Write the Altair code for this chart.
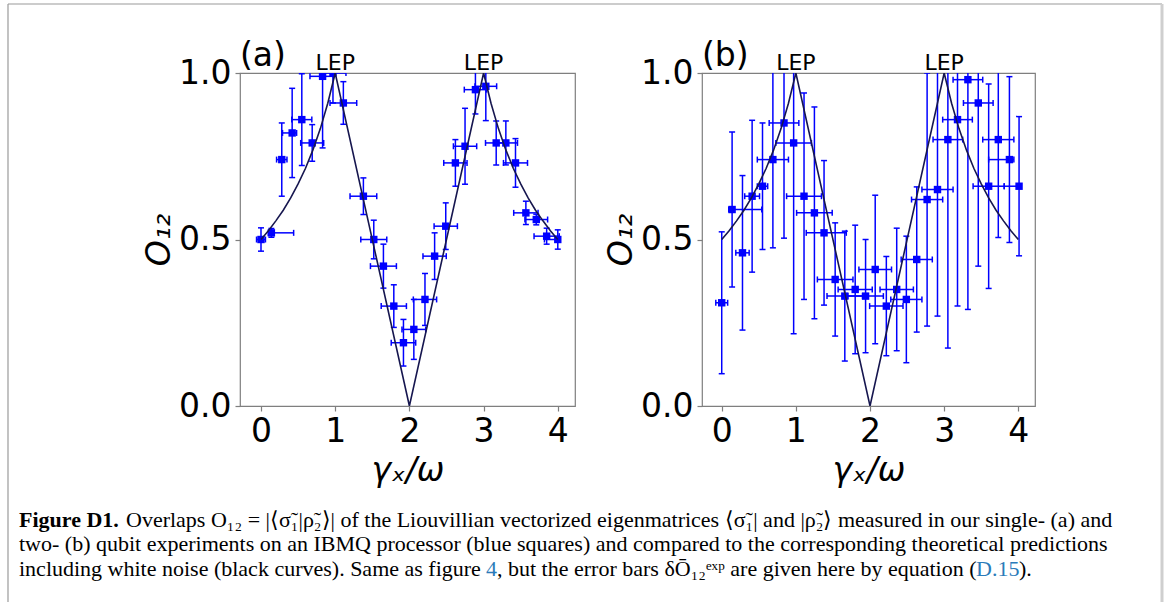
import altair as alt
import pandas as pd

BLUE = "#0000ff"
CURVE = "#16164f"
FRAME = "#7f7f7f"

# ---- (a) single-qubit experiment ----
a_x = [0.00, 0.14, 0.28, 0.42, 0.55, 0.69, 0.83, 0.97, 1.11, 1.38, 1.52, 1.65, 1.79, 1.92, 2.06,
       2.21, 2.34, 2.49, 2.62, 2.75, 2.89, 3.03, 3.17, 3.30, 3.43, 3.57, 3.71, 3.85, 4.00]
a_o = [0.50, 0.52, 0.74, 0.82, 0.86, 0.79, 0.99, 1.00, 0.91, 0.63, 0.50, 0.42, 0.30, 0.19, 0.23,
       0.32, 0.45, 0.54, 0.73, 0.78, 0.95, 0.96, 0.79, 0.79, 0.73, 0.58, 0.56, 0.51, 0.50]
a_err = [0.035, 0.013, 0.110, 0.134, 0.138, 0.055, 0.215, 0.090, 0.064, 0.055, 0.058, 0.066, 0.064,
         0.070, 0.090, 0.078, 0.070, 0.070, 0.070, 0.114, 0.073, 0.103, 0.066, 0.066, 0.073, 0.035,
         0.016, 0.024, 0.029]
a_xlo = [0.06, 0.04, 0.07, 0.13, 0.135, 0.155, 0.17, 0.175, 0.18, 0.18, 0.175, 0.175, 0.17, 0.165,
         0.16, 0.157, 0.157, 0.157, 0.157, 0.157, 0.15, 0.146, 0.144, 0.157, 0.162, 0.164, 0.153,
         0.17, 0.18]
a_xhi = [0.06, 0.30, 0.07, 0.06, 0.135, 0.155, 0.145, 0.175, 0.18, 0.18, 0.175, 0.175, 0.17, 0.165,
         0.16, 0.157, 0.157, 0.157, 0.157, 0.157, 0.15, 0.146, 0.144, 0.157, 0.162, 0.164, 0.153,
         0.17, 0.02]

# ---- (b) two-qubit experiment ----
b_x = [0.00, 0.14, 0.28, 0.41, 0.55, 0.69, 0.84, 0.97, 1.11, 1.25, 1.38, 1.53, 1.66, 1.80, 1.94,
       2.07, 2.22, 2.36, 2.49, 2.63, 2.77, 2.91, 3.05, 3.18, 3.32, 3.46, 3.60, 3.73, 3.88, 4.01]
b_o = [0.31, 0.59, 0.46, 0.63, 0.66, 0.74, 0.85, 0.79, 0.63, 0.58, 0.52, 0.38, 0.33, 0.35, 0.33,
       0.41, 0.30, 0.35, 0.32, 0.44, 0.62, 0.65, 0.80, 0.86, 0.98, 0.91, 0.66, 0.80, 0.74, 0.66]
b_err = [0.213, 0.233, 0.232, 0.228, 0.190, 0.265, 0.346, 0.573, 0.310, 0.318, 0.217, 0.170, 0.195,
         0.193, 0.170, 0.223, 0.149, 0.184, 0.190, 0.218, 0.380, 0.380, 0.626, 0.560, 0.690, 0.490,
         0.307, 0.294, 0.249, 0.209]
b_xlo = [0.08, 0.045, 0.09, 0.10, 0.07, 0.21, 0.20, 0.24, 0.235, 0.24, 0.24, 0.24, 0.24, 0.23, 0.24,
         0.22, 0.225, 0.225, 0.21, 0.21, 0.21, 0.21, 0.20, 0.20, 0.20, 0.20, 0.21, 0.21, 0.28, 0.20]
b_xhi = [0.08, 0.40, 0.09, 0.10, 0.07, 0.21, 0.20, 0.24, 0.235, 0.24, 0.30, 0.24, 0.24, 0.23, 0.24,
         0.22, 0.225, 0.225, 0.21, 0.21, 0.21, 0.21, 0.20, 0.20, 0.20, 0.20, 0.21, 0.21, 0.06, 0.00]

# ---- theoretical overlap (same in both panels) ----
th_x = [0.0, 0.1, 0.2, 0.3, 0.4, 0.5, 0.6, 0.7, 0.8, 0.9, 1.0, 2.0,
        3.0, 3.1, 3.2, 3.3, 3.4, 3.5, 3.6, 3.7, 3.8, 3.9, 4.0]
th_o = [0.500, 0.526, 0.556, 0.588, 0.625, 0.667, 0.714, 0.769, 0.833, 0.909, 1.000, 0.000,
        1.000, 0.909, 0.833, 0.769, 0.714, 0.667, 0.625, 0.588, 0.556, 0.526, 0.500]

lep_x = [1, 3]

caption_1a = "Figure D1."
caption_1b = ("Overlaps O\u2081\u2082 = |\u27e8\u03c3\u0303\u2081|\u03c1\u0303\u2082\u27e9| of the Liouvillian "
              "vectorized eigenmatrices \u27e8\u03c3\u0303\u2081| and |\u03c1\u0303\u2082\u27e9 measured in our single- (a) and")
caption_2 = ("two- (b) qubit experiments on an IBMQ processor (blue squares) and compared to the "
             "corresponding theoretical predictions")
caption_3a = "including white noise (black curves). Same as figure "
caption_3b = "4"
caption_3c = ", but the error bars \u03b4O\u0304\u2081\u2082\u1d49\u02e3\u1d56 are given here by equation ("
caption_3d = "D.15"
caption_3e = ")."


def frame(x, o, err, xlo, xhi):
    df = pd.DataFrame({"x": x, "o": o, "err": err, "xlo": xlo, "xhi": xhi})
    df["ylo"] = df["o"] - df["err"]
    df["yhi"] = df["o"] + df["err"]
    df["x0"] = df["x"] - df["xlo"]
    df["x1"] = df["x"] + df["xhi"]
    return df


def panel(df, tag, width, xdom, extra=None):
    xs = alt.Scale(domain=xdom, nice=False, zero=False)
    ys = alt.Scale(domain=[0, 1], nice=False, zero=False)
    xax = alt.Axis(values=[0, 1, 2, 3, 4], format="d", title="\u03b3\u2093/\u03c9")
    yax = alt.Axis(values=[0, 0.5, 1], format=".1f", title="O\u2081\u2082")
    X = lambda f: alt.X(f, type="quantitative", scale=xs, axis=xax)
    Y = lambda f: alt.Y(f, type="quantitative", scale=ys, axis=yax)

    base = alt.Chart(df)
    vbar = base.mark_rule(color=BLUE, strokeWidth=1.5, clip=True).encode(
        x=X("x"), y=Y("ylo"), y2="yhi")
    hbar = base.mark_rule(color=BLUE, strokeWidth=1.5, clip=True).encode(
        x=X("x0"), x2="x1", y=Y("o"))
    cap_lo = base.mark_tick(color=BLUE, orient="horizontal", size=6, thickness=1.5,
                            clip=True, opacity=1).encode(x=X("x"), y=Y("ylo"))
    cap_hi = base.mark_tick(color=BLUE, orient="horizontal", size=6, thickness=1.5,
                            clip=True, opacity=1).encode(x=X("x"), y=Y("yhi"))
    cap_l = base.mark_tick(color=BLUE, orient="vertical", size=6, thickness=1.5,
                           clip=True, opacity=1).encode(x=X("x0"), y=Y("o"))
    cap_r = base.mark_tick(color=BLUE, orient="vertical", size=6, thickness=1.5,
                           clip=True, opacity=1).encode(x=X("x1"), y=Y("o"))
    pts = base.mark_square(color=BLUE, size=55, opacity=1, clip=True).encode(
        x=X("x"), y=Y("o"))

    theory = alt.Chart(pd.DataFrame({"x": th_x, "o": th_o})).mark_line(
        color=CURVE, strokeWidth=1.6, clip=True).encode(x=X("x"), y=Y("o"))

    lep = alt.Chart(pd.DataFrame({"x": lep_x, "t": ["LEP"] * len(lep_x)})).mark_text(
        font="DejaVu Sans", fontSize=22, baseline="alphabetic", align="center", color="black"
    ).encode(x=X("x"), y=alt.value(-3), text="t:N")

    tag_txt = alt.Chart(pd.DataFrame({"t": [tag]})).mark_text(
        font="DejaVu Sans", fontSize=33, baseline="alphabetic", align="left", color="black"
    ).encode(x=alt.value(0), y=alt.value(-7), text="t:N")

    layers = [vbar, hbar, cap_lo, cap_hi, cap_l, cap_r, pts, theory, lep, tag_txt]
    if extra:
        layers += extra
    return alt.layer(*layers).properties(width=width, height=333)


# page border and caption, placed relative to the left panel's plot origin
OX, OY = 240, 73


def rule(x1, x2, y1, y2, color, w):
    return alt.Chart(alt.Data(values=[{}])).mark_rule(color=color, strokeWidth=w).encode(
        x=alt.value(x1 - OX), x2=alt.value(x2 - OX), y=alt.value(y1 - OY), y2=alt.value(y2 - OY))


def txt(s, x, y, color="black", weight="normal"):
    return alt.Chart(pd.DataFrame({"t": [s]})).mark_text(
        font="Liberation Serif", fontSize=22, align="left", baseline="alphabetic",
        color=color, fontWeight=weight
    ).encode(x=alt.value(x - OX), y=alt.value(y - OY), text="t:N")


LINK = "#2b7bb9"
extras = [
    rule(8, 1162, 4, 4, "#9a9a9a", 1.2),
    rule(8, 8, 4, 602, "#9a9a9a", 1.2),
    rule(1162, 1162, 4, 602, "#cfcfcf", 3),
    txt(caption_1a, 19, 527, weight="bold"),
    txt(caption_1b, 126, 527),
    txt(caption_2, 19, 551),
    txt(caption_3a, 19, 576),
    txt(caption_3b, 486, 576, color=LINK),
    txt(caption_3c, 497, 576),
    txt(caption_3d, 976, 576, color=LINK),
    txt(caption_3e, 1019, 576),
]

pa = panel(frame(a_x, a_o, a_err, a_xlo, a_xhi), "(a)", 335, [-0.283, 4.232], extras)
pb = panel(frame(b_x, b_o, b_err, b_xlo, b_xhi), "(b)", 333, [-0.266, 4.225])

chart = alt.hconcat(pa, pb, spacing=127, bounds="flush").properties(
    padding={"left": 6, "top": 1, "right": 0, "bottom": 0},
    background="white",
).configure_view(
    stroke=FRAME, strokeWidth=1.2
).configure_axis(
    grid=False, domain=False,
    labelFont="DejaVu Sans", labelFontSize=33, labelColor="black", labelPadding=4,
    tickColor=FRAME, tickSize=5, tickWidth=1.2,
    titleFont="DejaVu Sans", titleFontSize=33, titleFontWeight="normal",
    titleFontStyle="italic", titleColor="black",
).configure_axisX(titlePadding=6).configure_axisY(titlePadding=2)

chart.save("out.html", embed_options={"renderer": "svg", "actions": False})
